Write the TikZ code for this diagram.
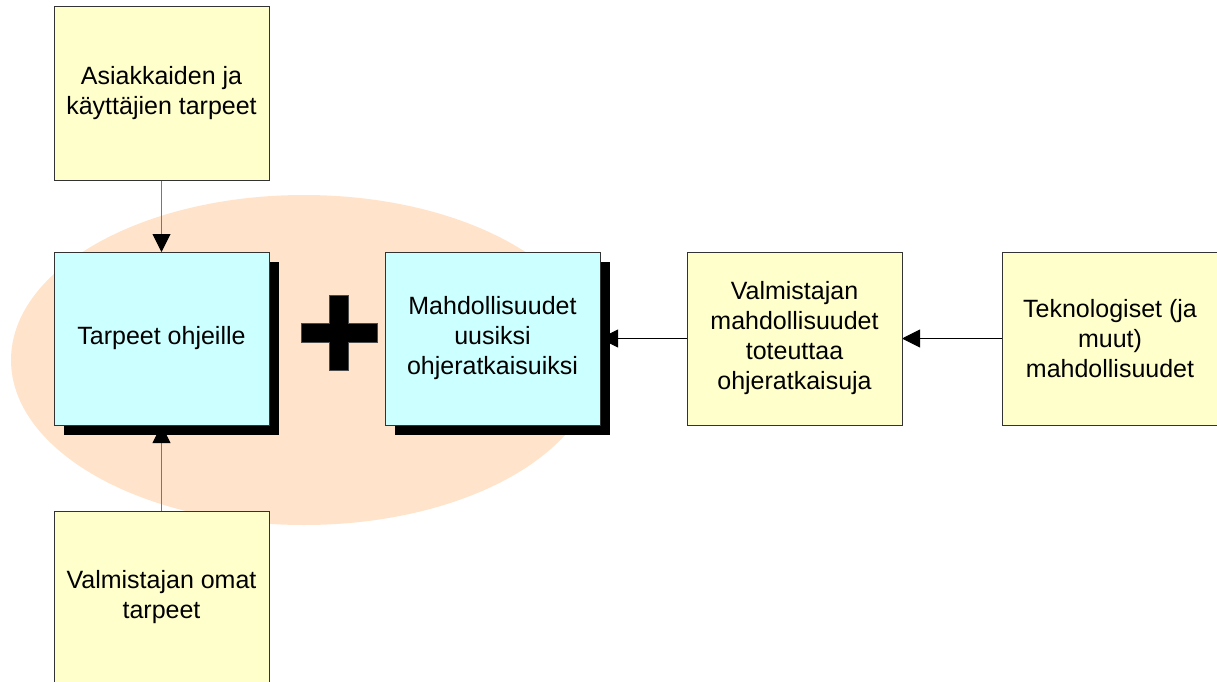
\documentclass[tikz,border=0pt]{standalone}
\usepackage{fontspec}
\setmainfont{Liberation Sans}
\usetikzlibrary{arrows.meta,shadows}
\pgfdeclarelayer{back}
\pgfdeclarelayer{arr}
\pgfsetlayers{back,arr,main}
\definecolor{boxyellow}{HTML}{FFFFCC}
\definecolor{boxcyan}{HTML}{CCFFFF}
\definecolor{peach}{HTML}{FFE4CB}
\definecolor{edgecol}{HTML}{333333}
\definecolor{linegray}{HTML}{777777}
\begin{document}
\begin{tikzpicture}[x=1pt,y=-1pt,
  box/.style={draw=edgecol, line width=1pt, minimum width=215pt, minimum height=173pt,
    inner sep=0pt, outer sep=0pt, align=center, font=\fontsize{25}{30}\selectfont},
  ybox/.style={box, fill=boxyellow},
  cbox/.style={box, fill=boxcyan,
    drop shadow={shadow xshift=10pt, shadow yshift=-10pt, fill=black, opacity=1}},
  tip/.style={-{Triangle[length=18pt,width=18pt,color=black]}},
  varrow/.style={tip, draw=linegray, line width=1pt},
  harrow/.style={tip, draw=black, line width=1pt},
  plussign/.style={fill=black, draw=gray!60!black, line width=0.6pt},
]
\useasboundingbox (0,0) rectangle (1217,682);

\begin{pgfonlayer}{back}
  \fill[peach] (304,360) ellipse [x radius=293, y radius=165];
\end{pgfonlayer}

\node[ybox] (A) at (161.5,93.5) {Asiakkaiden ja\\käyttäjien tarpeet};
\node[cbox] (B) at (161.5,338.5) {Tarpeet ohjeille};
\node[cbox] (C) at (492.5,338.5) {Mahdollisuudet\\uusiksi\\ohjeratkaisuiksi};
\node[ybox] (D) at (794.5,338.5) {Valmistajan\\mahdollisuudet\\toteuttaa\\ohjeratkaisuja};
\node[ybox] (E) at (1110,338.5) {Teknologiset (ja\\muut)\\mahdollisuudet};
\node[ybox] (F) at (161.5,597.5) {Valmistajan omat\\tarpeet};

\begin{pgfonlayer}{arr}
  \draw[varrow] (A.south) -- (B.north);
  \draw[varrow] (F.north) -- (B.south);
  \draw[harrow] (D.west) -- (C.east);
  \draw[harrow] (E.west) -- (D.east);
\end{pgfonlayer}

\filldraw[plussign] (329.7,295.3) -- (348.7,295.3) -- (348.7,323.7) -- (377.3,323.7)
  -- (377.3,342.7) -- (348.7,342.7) -- (348.7,370.3) -- (329.7,370.3)
  -- (329.7,342.7) -- (301.3,342.7) -- (301.3,323.7) -- (329.7,323.7) -- cycle;
\end{tikzpicture}
\end{document}
